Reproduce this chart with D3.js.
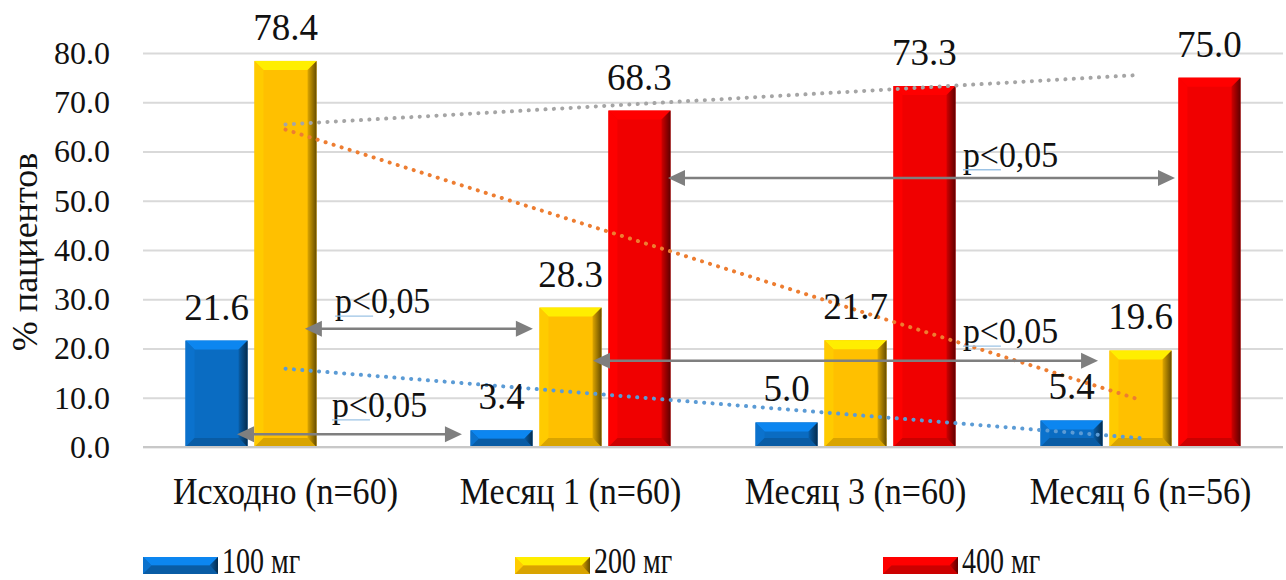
<!DOCTYPE html>
<html>
<head>
<meta charset="utf-8">
<script src="https://cdn.jsdelivr.net/npm/d3@7"></script>
<style>
  html, body { margin: 0; padding: 0; background: #fff; overflow: hidden; }
  svg { display: block; }
  svg text { font-family: "Liberation Serif", "LiberationSerif", Tinos, "Times New Roman", "DejaVu Serif", "Noto Serif", serif; fill: #111; }
</style>
</head>
<body>
<svg id="chart" width="1286" height="580"></svg>
<script>
// ---- data ----
const categories = ["Исходно (n=60)", "Месяц 1 (n=60)", "Месяц 3 (n=60)", "Месяц 6 (n=56)"];
const seriesNames = ["100 мг", "200 мг", "400 мг"];
const dose100 = [21.6, 3.4, 5.0, 5.4];
const dose200 = [78.4, 28.3, 21.7, 19.6];
const dose400 = [null, 68.3, 73.3, 75.0];
const yTickValues = [0, 10, 20, 30, 40, 50, 60, 70, 80];
const axisTitle = "% пациентов";
const significanceText = "p<0,05";

// significance brackets: horizontal span in category units (0..4), level in % units
const comparisons = [
  { from: 0.568, to: 1.368, level: 24.0, labelAt: 0.674, labelLevel: 27.2 },
  { from: 0.330, to: 1.119, level: 2.6,  labelAt: 0.663, labelLevel: 6.1 },
  { from: 1.842, to: 3.621, level: 54.6, labelAt: 2.877, labelLevel: 56.9 },
  { from: 1.579, to: 3.351, level: 17.5, labelAt: 2.877, labelLevel: 21.1 }
];

const seriesValues = [dose100, dose200, dose400];
const seriesColors = ["#0a6cc2", "#ffc000", "#f00000"];
const trendColors = ["#5b9bd5", "#ed7d31", "#a5a5a5"];
const FONT = '"Liberation Serif", "LiberationSerif", Tinos, "Times New Roman", "DejaVu Serif", "Noto Serif", serif';

// ---- layout ----
const svg = d3.select("#chart");
const plot = { left: 143, right: 1283, top: 53, bottom: 447 };

const y = d3.scaleLinear().domain([0, 80]).range([plot.bottom, plot.top]);
const x0 = d3.scaleBand().domain(categories).range([plot.left, plot.right]);
const groupPad = (x0.bandwidth() - 200) / 2;
const x1 = d3.scaleBand().domain(seriesNames)
  .range([groupPad, x0.bandwidth() - groupPad]).paddingInner(0.1);
const xc = d3.scaleLinear().domain([0, categories.length]).range([plot.left, plot.right]);

const defs = svg.append("defs");
seriesColors.forEach((c, i) => {
  const g = defs.append("linearGradient").attr("id", "side" + i)
    .attr("x1", "0").attr("x2", "1").attr("y1", "0").attr("y2", "0");
  g.append("stop").attr("offset", "0%").attr("stop-color", d3.color(c).darker(0.4));
  g.append("stop").attr("offset", "100%").attr("stop-color", d3.color(c).darker(2.6));
});

// ---- gridlines and y axis ----
const yAxis = svg.append("g")
  .attr("transform", `translate(${plot.left},0)`)
  .call(d3.axisLeft(y).tickValues(yTickValues)
    .tickSize(-(plot.right - plot.left)).tickPadding(33)
    .tickFormat(d3.format(".1f")));
yAxis.attr("font-family", null).attr("font-size", null);
yAxis.select(".domain").remove();
yAxis.selectAll(".tick line").attr("stroke", "#d9d9d9").attr("stroke-width", 2);
yAxis.selectAll(".tick text")
  .style("font-family", FONT).style("font-size", "32px").attr("fill", "#111");

svg.append("text")
  .attr("transform", `translate(${37},${(plot.top + plot.bottom) / 2 + 2}) rotate(-90)`)
  .attr("text-anchor", "middle")
  .style("font-family", FONT)
  .style("font-size", "36px")
  .text(axisTitle);

// ---- bevelled bars ----
function bevelBar(sel, x, yTop, w, h, si) {
  const base = seriesColors[si];
  const c = d3.color(base);
  const b = Math.min(9, h / 2, w / 2);
  const g = sel.append("g");
  g.append("rect").attr("x", x).attr("y", yTop).attr("width", w).attr("height", h).attr("fill", base);
  const poly = pts => pts.map(p => p.join(",")).join(" ");
  g.append("polygon").attr("points", poly([[x, yTop], [x + w, yTop], [x + w - b, yTop + b], [x + b, yTop + b]]))
    .attr("fill", c.brighter(0.6));
  g.append("polygon").attr("points", poly([[x, yTop], [x + b, yTop + b], [x + b, yTop + h - b], [x, yTop + h]]))
    .attr("fill", c.brighter(0.15));
  g.append("polygon").attr("points", poly([[x, yTop + h], [x + b, yTop + h - b], [x + w - b, yTop + h - b], [x + w, yTop + h]]))
    .attr("fill", c.darker(0.45));
  g.append("polygon").attr("points", poly([[x + w, yTop], [x + w, yTop + h], [x + w - b, yTop + h - b], [x + w - b, yTop + b]]))
    .attr("fill", `url(#side${si})`);
}

const barLayer = svg.append("g");
categories.forEach((cat, ci) => {
  seriesNames.forEach((s, si) => {
    const v = seriesValues[si][ci];
    if (v == null) return;
    const bx = x0(cat) + x1(s);
    bevelBar(barLayer, bx, y(v), x1.bandwidth(), y(0) - y(v), si);
  });
});

// baseline
svg.append("line")
  .attr("x1", plot.left).attr("x2", plot.right)
  .attr("y1", y(0)).attr("y2", y(0))
  .attr("stroke", "#c8c8c8").attr("stroke-width", 2);

// ---- linear trendlines ----
function linearFit(vals) {
  const pts = vals.map((v, i) => [i + 1, v]).filter(p => p[1] != null);
  const mx = d3.mean(pts, p => p[0]), my = d3.mean(pts, p => p[1]);
  const slope = d3.sum(pts, p => (p[0] - mx) * (p[1] - my)) / d3.sum(pts, p => (p[0] - mx) ** 2);
  return k => my + slope * (k - mx);
}
const trendLayer = svg.append("g");
seriesValues.forEach((vals, si) => {
  const f = linearFit(vals);
  const ends = [1, categories.length];
  trendLayer.append("path")
    .attr("d", d3.line()(ends.map(k => [xc(k - 0.5), y(f(k))])))
    .attr("stroke", trendColors[si]).attr("stroke-width", 4)
    .attr("stroke-linecap", "round").attr("stroke-dasharray", "0.1 8.3")
    .attr("fill", "none");
});

// ---- value labels ----
const labelLayer = svg.append("g");
categories.forEach((cat, ci) => {
  seriesNames.forEach((s, si) => {
    const v = seriesValues[si][ci];
    if (v == null) return;
    labelLayer.append("text")
      .attr("x", x0(cat) + x1(s) + x1.bandwidth() / 2)
      .attr("y", y(v) - 21)
      .attr("text-anchor", "middle")
      .style("font-family", FONT)
      .style("font-size", "37px")
      .text(d3.format(".1f")(v));
  });
});

// ---- significance brackets ----
const arrowLayer = svg.append("g");
const headL = 17, headW = 8;
comparisons.forEach(cmp => {
  const xa = xc(cmp.from), xb = xc(cmp.to), ly = y(cmp.level);
  arrowLayer.append("line")
    .attr("x1", xa + headL - 2).attr("x2", xb - headL + 2)
    .attr("y1", ly).attr("y2", ly)
    .attr("stroke", "#7f7f7f").attr("stroke-width", 2.5);
  arrowLayer.append("polygon")
    .attr("points", `${xa},${ly} ${xa + headL},${ly - headW} ${xa + headL},${ly + headW}`)
    .attr("fill", "#7f7f7f");
  arrowLayer.append("polygon")
    .attr("points", `${xb},${ly} ${xb - headL},${ly - headW} ${xb - headL},${ly + headW}`)
    .attr("fill", "#7f7f7f");
  const lx = xc(cmp.labelAt), lyText = y(cmp.labelLevel);
  arrowLayer.append("text")
    .attr("transform", `translate(${lx},${lyText}) scale(0.94,1)`)
    .style("font-family", FONT)
    .style("font-size", "36px")
    .text(significanceText);
  arrowLayer.append("line")
    .attr("x1", lx).attr("x2", lx + 38)
    .attr("y1", lyText + 3).attr("y2", lyText + 3)
    .attr("stroke", "#9cc3e5").attr("stroke-width", 1.3);
});

// ---- category axis labels ----
svg.append("g").selectAll("text")
  .data(categories).join("text")
  .attr("transform", d => `translate(${x0(d) + x0.bandwidth() / 2},${504}) scale(0.92,1)`)
  .attr("text-anchor", "middle")
  .style("font-family", FONT)
  .style("font-size", "37px")
  .text(d => d);

// ---- legend ----
const legendX = [143, 515, 883];
const legend = svg.append("g");
seriesNames.forEach((s, si) => {
  bevelBar(legend, legendX[si], 557, 75, 17, si);
  legend.append("text")
    .attr("transform", `translate(${legendX[si] + 79},${573}) scale(0.8,1)`)
    .style("font-family", FONT)
    .style("font-size", "35px")
    .text(s);
});
</script>
</body>
</html>
